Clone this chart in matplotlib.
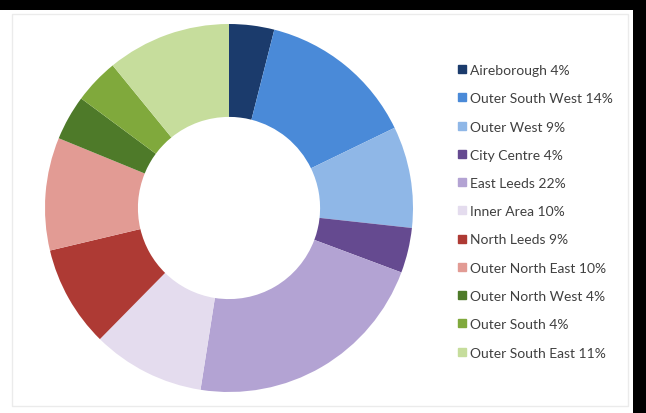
import matplotlib
matplotlib.use("Agg")
import matplotlib.pyplot as plt
from matplotlib.patches import Rectangle
from matplotlib.lines import Line2D

areas = ["Aireborough", "Outer South West", "Outer West", "City Centre",
         "East Leeds", "Inner Area", "North Leeds", "Outer North East",
         "Outer North West", "Outer South", "Outer South East"]
shares = [4, 14, 9, 4, 22, 10, 9, 10, 4, 4, 11]
colors = ["#1b3b6c", "#4a8ad8", "#8fb7e7", "#654a90", "#b3a3d3", "#e4dcee",
          "#ae3a34", "#e29b94", "#4e7a29", "#80a93c", "#c6dd9c"]

W, H = 646, 414
fig = plt.figure(figsize=(W / 100, H / 100), dpi=100)
fig.patch.set_facecolor("white")

# page frame: dark margins and a faint chart border
bg = fig.add_axes([0, 0, 1, 1])
bg.set_xlim(0, W)
bg.set_ylim(H, 0)
bg.axis("off")
bg.add_patch(Rectangle((0, 0), W, 11, color="black", lw=0))
bg.add_patch(Rectangle((633, 0), W - 633, H, color="black", lw=0))
bg.add_patch(Rectangle((12, 15), 616, 392, fill=False, ec="#ebebeb", lw=1))

# donut
cx, cy, r = 229, 209, 184
ax = fig.add_axes([(cx - r) / W, 1 - (cy + r) / H, 2 * r / W, 2 * r / H])
ax.pie(shares, colors=colors, startangle=90, counterclock=False,
       wedgeprops=dict(width=0.505, linewidth=0), radius=1.0)
ax.set_xlim(-1, 1)
ax.set_ylim(-1, 1)
ax.set_aspect("equal")
ax.axis("off")

# legend
handles = [Line2D([], [], marker="s", linestyle="none", markersize=6,
                  markerfacecolor=c, markeredgecolor=c) for c in colors]
labels = [f"{a} {v}%" for a, v in zip(areas, shares)]
leg = fig.legend(handles, labels, loc="upper left",
                 bbox_to_anchor=(458 / W, 1 - 65 / H), frameon=False,
                 prop={"family": "Lato", "size": 10}, labelcolor="#404040",
                 handlelength=0.55, handletextpad=0.35, labelspacing=1.17,
                 borderaxespad=0, borderpad=0)

fig.savefig("out.png", dpi=100, facecolor="white")
